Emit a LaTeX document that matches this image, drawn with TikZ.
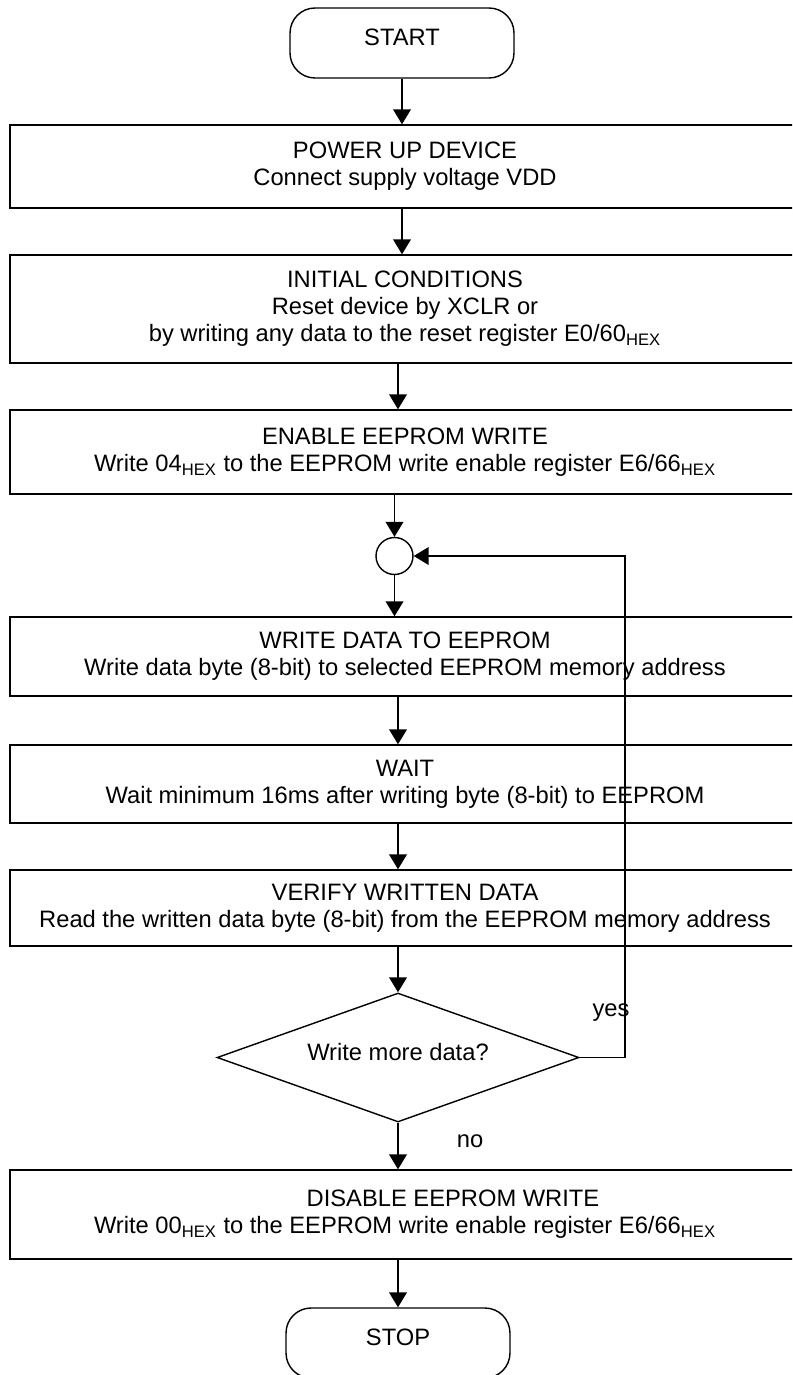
\documentclass[tikz,border=0pt]{standalone}
\usepackage{fontspec}
\setmainfont{Liberation Sans}
\usetikzlibrary{arrows.meta,shapes.geometric}

\newcommand{\hx}{\textsubscript{HEX}}

\tikzset{
    stepbox/.style={draw, line width=0.8pt, rectangle, minimum width=15.8cm, align=center, inner sep=2pt},
    termbox/.style={draw, line width=0.8pt, rounded corners=0.5cm, minimum width=4.48cm, minimum height=1.4cm},
    joinpt/.style={draw, line width=0.8pt, circle, minimum size=0.74cm, inner sep=0pt},
    decide/.style={draw, line width=0.8pt, diamond, aspect=2.8, minimum width=7.24cm, minimum height=2.58cm, inner sep=0pt},
    flow/.style={-{Triangle[length=8.5pt, width=10pt]}, line width=1.1pt},
}

\begin{document}
\begin{tikzpicture}[x=0.02cm, y=-0.02cm, every node/.style={font=\fontsize{13.5pt}{15.3pt}\selectfont}]
    \useasboundingbox (0,0) rectangle (792,1375);
    \clip (0,0) rectangle (792,1375);

    % Start und Initialisierung
    \node[termbox] (start) at (402,43) {\raisebox{0.22cm}{START}};
    \node[stepbox, minimum height=1.66cm] (power) at (405,166.5) {POWER UP DEVICE\\Connect supply voltage VDD};
    \node[stepbox, minimum height=2.16cm] (init) at (405,309) {INITIAL CONDITIONS\\Reset device by XCLR or\\by writing any data to the reset register E0/60\hx};
    \node[stepbox, minimum height=1.68cm] (enable) at (405,452) {ENABLE EEPROM WRITE\\Write 04\hx{} to the EEPROM write enable register E6/66\hx};

    % Schreibschleife
    \node[joinpt] (join) at (394.5,556) {};
    \node[stepbox, minimum height=1.58cm] (write) at (405,656.5) {WRITE DATA TO EEPROM\\Write data byte (8-bit) to selected EEPROM memory address};
    \node[stepbox, minimum height=1.56cm] (wait) at (405,784) {WAIT\\Wait minimum 16ms after writing byte (8-bit) to EEPROM};
    \node[stepbox, minimum height=1.52cm] (verify) at (405,908) {VERIFY WRITTEN DATA\\Read the written data byte (8-bit) from the EEPROM memory address};
    \node[decide] (dec) at (398,1057.5) {\raisebox{0.24cm}{Write more data?}};
    \node (yes) at (611,1013) {yes};
    \node (no) at (470,1141) {no};

    % Abschluss
    \node[stepbox, minimum height=1.78cm] (disable) at (405,1214.5) {\hspace*{1.92cm}DISABLE EEPROM WRITE\\Write 00\hx{} to the EEPROM write enable register E6/66\hx};
    \node[termbox] (stop) at (398,1343) {\raisebox{0.22cm}{STOP}};

    % Verbindungen
    \draw[flow] (start) -- (start |- power.north);
    \draw[flow] (power.south -| start) -- (init.north -| start);
    \draw[flow] (init.south -| dec) -- (enable.north -| dec);
    \draw[flow] (enable.south -| join) -- (join);
    \draw[flow] (join) -- (join |- write.north);
    \draw[flow] (write.south -| dec) -- (wait.north -| dec);
    \draw[flow] (wait.south -| dec) -- (verify.north -| dec);
    \draw[flow] (verify.south -| dec) -- (dec);
    \draw[flow] (dec) -- (dec |- disable.north);
    \draw[flow] (disable.south -| stop) -- (stop);
    \draw[flow] (dec.east) -- ++(45,0) |- (join);
\end{tikzpicture}
\end{document}
